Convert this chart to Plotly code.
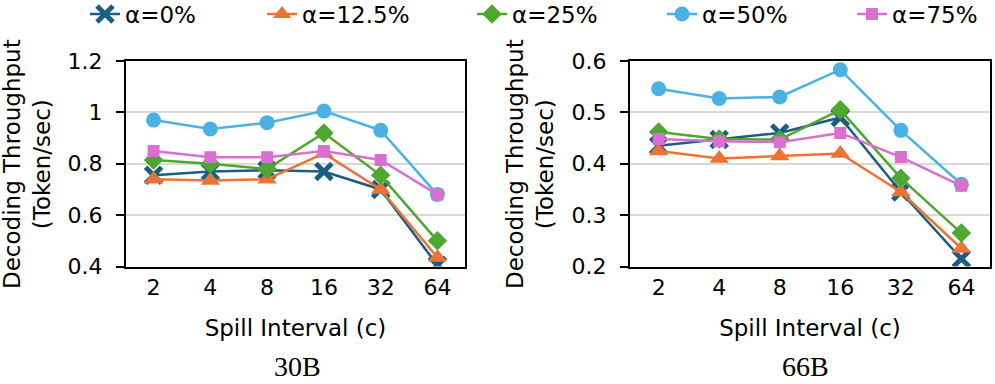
import plotly.graph_objects as go

intervals = ['2', '4', '8', '16', '32', '64']
series_names = ['α=0%', 'α=12.5%', 'α=25%', 'α=50%', 'α=75%']

# 30B model
tp_30b_a0 = [0.755, 0.77, 0.775, 0.77, 0.70, 0.405]
tp_30b_a125 = [0.74, 0.735, 0.74, 0.84, 0.70, 0.435]
tp_30b_a25 = [0.815, 0.80, 0.78, 0.92, 0.755, 0.50]
tp_30b_a50 = [0.97, 0.935, 0.96, 1.005, 0.93, 0.68]
tp_30b_a75 = [0.85, 0.825, 0.825, 0.85, 0.815, 0.68]

# 66B model
tp_66b_a0 = [0.435, 0.447, 0.46, 0.49, 0.345, 0.215]
tp_66b_a125 = [0.425, 0.41, 0.415, 0.42, 0.345, 0.235]
tp_66b_a25 = [0.462, 0.448, 0.447, 0.505, 0.372, 0.265]
tp_66b_a50 = [0.546, 0.527, 0.53, 0.583, 0.465, 0.36]
tp_66b_a75 = [0.448, 0.444, 0.442, 0.46, 0.413, 0.357]

colors = ['#1B5E82', '#EB7434', '#4EA72E', '#4AB2E2', '#D96FCF']
symbols = ['x-thin', 'triangle-up', 'diamond', 'circle', 'square']
sizes = [16, 17, 15, 15, 12]
legend_ids = ['legend', 'legend2', 'legend3', 'legend4', 'legend5']
legend_text_x = [120, 297, 507, 697, 887]  # where each legend label starts

font_main = 'DejaVu Sans'
W, H = 995, 384

fig = go.Figure()

panels = [
    ('x', 'y', [tp_30b_a0, tp_30b_a125, tp_30b_a25, tp_30b_a50, tp_30b_a75]),
    ('x2', 'y2', [tp_66b_a0, tp_66b_a125, tp_66b_a25, tp_66b_a50, tp_66b_a75]),
]
for p, (xa, ya, data) in enumerate(panels):
    for i, vals in enumerate(data):
        marker = dict(symbol=symbols[i], size=sizes[i], color=colors[i])
        if symbols[i] == 'x-thin':
            marker['line'] = dict(width=5, color=colors[i])
        fig.add_trace(go.Scatter(x=intervals, y=vals, xaxis=xa, yaxis=ya,
                                 mode='lines+markers', name=series_names[i],
                                 line=dict(color=colors[i], width=2.5),
                                 marker=marker, legend=legend_ids[i],
                                 showlegend=(p == 0)))

axis_common = dict(showline=True, linecolor='black', linewidth=2, mirror=True,
                   tickfont=dict(family=font_main, size=22, color='black'))
yaxis_common = dict(ticks='outside', ticklen=8, tickwidth=2, tickcolor='black',
                    showgrid=True, gridcolor='#D9D9D9', gridwidth=2,
                    ticklabelstandoff=9, **axis_common)
ydom = [1 - 266.5 / H, 1 - 61 / H]

fig.update_layout(
    width=W, height=H,
    margin=dict(l=0, r=0, t=0, b=0, autoexpand=False),
    plot_bgcolor='white', paper_bgcolor='white',
    font=dict(family=font_main, size=22, color='black'),
    showlegend=True,
    xaxis=dict(domain=[126 / W, 465 / W], type='category', ticks='', **axis_common,
               title=dict(text='Spill Interval (c)', standoff=21, font=dict(size=23))),
    xaxis2=dict(domain=[630 / W, 990 / W], type='category', ticks='', **axis_common,
                title=dict(text='Spill Interval (c)', standoff=21, font=dict(size=23))),
    yaxis=dict(domain=ydom, range=[0.4, 1.2], dtick=0.2, anchor='x', **yaxis_common),
    yaxis2=dict(domain=ydom, range=[0.2, 0.6], dtick=0.1, anchor='x2', **yaxis_common),
)
for lid, tx in zip(legend_ids, legend_text_x):
    fig.update_layout({lid: dict(orientation='h', x=(tx - 35) / W, xanchor='left',
                                 y=1 - 14 / H, yanchor='middle', font=dict(size=23),
                                 bgcolor='rgba(0,0,0,0)')})

ytitle = 'Decoding Throughput<br>(Token/sec)'
for xpos in [27, 530]:
    fig.add_annotation(text=ytitle, x=xpos / W, y=1 - 164 / H, xref='paper', yref='paper',
                       showarrow=False, textangle=-90, xanchor='center', yanchor='middle',
                       font=dict(family=font_main, size=23))

for label, xpos in [('30B', 297), ('66B', 805)]:
    fig.add_annotation(text=label, x=xpos / W, y=0, xref='paper',
                       yref='paper', showarrow=False, xanchor='center', yanchor='bottom',
                       font=dict(family='Liberation Serif', size=28, color='black'))

# drop the default 8px body margin so the figure fills the window exactly
fig.write_html('out.html', config={'displayModeBar': False},
               post_script="document.body.style.margin='0';")
